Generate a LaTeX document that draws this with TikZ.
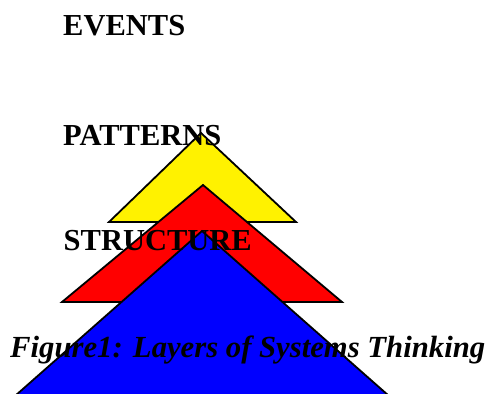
\documentclass[tikz,border=0pt]{standalone}
\usepackage{fontspec}
\setmainfont{Liberation Serif}
\begin{document}
\begin{tikzpicture}[x=1pt,y=-1pt,
  layer/.style={draw=black,line width=1.8pt,line join=miter},
  label/.style={anchor=base west,inner sep=0pt,font=\fontsize{30.5}{36}\selectfont\bfseries},
  caption/.style={anchor=base west,inner sep=0pt,font=\fontsize{30.7}{36}\selectfont\bfseries\itshape}]
  \useasboundingbox (0,0) rectangle (488,394);
  \begin{scope}
    \clip (0,0) rectangle (488,394);
    % stacked layers, back to front
    \filldraw[layer,fill=yellow] (109,222) -- (201,133) -- (296,222) -- cycle;
    \filldraw[layer,fill=red] (62,302) -- (203,185) -- (342,302) -- cycle;
    \filldraw[layer,fill=blue] (-78,478) -- (202,231) -- (482,478) -- cycle;
  \end{scope}
  \node[label] (events) at (63,35.7) {EVENTS};
  \node[label] (patterns) at (63,145) {PATTERNS};
  \node[label] (structure) at (63.5,250.7) {STRUCTURE};
  \node[caption] (cap) at (10,357) {Figure1: Layers of Systems Thinking};
\end{tikzpicture}
\end{document}
